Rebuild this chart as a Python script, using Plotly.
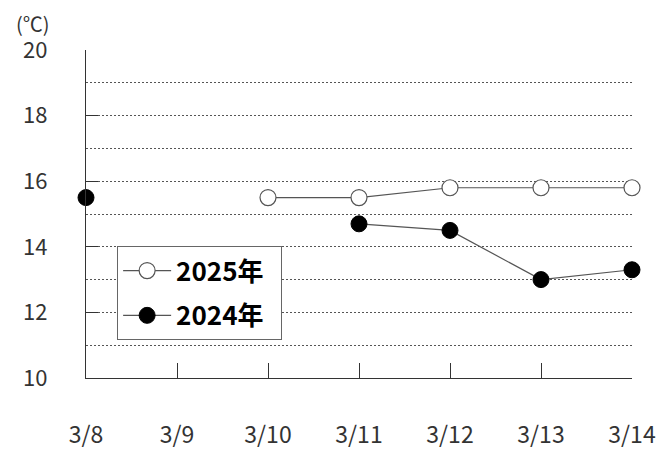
import plotly.graph_objects as go

dates = ["3/8", "3/9", "3/10", "3/11", "3/12", "3/13", "3/14"]
temp_2025 = [None, None, 15.5, 15.5, 15.8, 15.8, 15.8]
temp_2024 = [15.5, None, None, 14.7, 14.5, 13.0, 13.3]
y_ticks = [10, 12, 14, 16, 18, 20]

xs = list(range(len(dates)))
pad = "\u00a0\u00a0"

fig = go.Figure()
fig.add_trace(go.Scatter(
    x=xs, y=temp_2025, name="2025年" + pad, mode="lines+markers", legendgroup="a",
    line=dict(color="#555555", width=1.2),
    marker=dict(size=16, color="white", line=dict(color="#555555", width=1.2)),
    cliponaxis=False, connectgaps=False,
))
fig.add_trace(go.Scatter(
    x=xs, y=temp_2024, name="2024年" + pad, mode="lines+markers", legendgroup="b",
    line=dict(color="#555555", width=1.2),
    marker=dict(size=16, color="black", line=dict(color="black", width=1)),
    cliponaxis=False, connectgaps=False,
))

fig.update_layout(
    width=661, height=443,
    margin=dict(l=78, r=37, t=42, b=73, autoexpand=False),
    paper_bgcolor="white", plot_bgcolor="white",
    font=dict(family="Noto Sans CJK JP, Noto Sans, sans-serif", color="#333333"),
    showlegend=True,
    legend=dict(
        x=0.057, y=0.402, xanchor="left", yanchor="top",
        bgcolor="white", bordercolor="#666666", borderwidth=1,
        font=dict(size=26, color="black", family="Noto Sans CJK JP, sans-serif", weight="bold"),
        tracegroupgap=8, itemwidth=48,
    ),
    xaxis=dict(
        range=[0, 6], tickmode="array", tickvals=xs, ticktext=dates,
        showline=True, linecolor="#333333", linewidth=1.2,
        ticks="inside", ticklen=15, tickcolor="#333333",
        showgrid=False, zeroline=False, automargin=False,
        tickfont=dict(size=23, color="#333333"),
        ticklabelstandoff=36,
    ),
    yaxis=dict(
        range=[10, 20], tickmode="array", tickvals=y_ticks,
        showline=True, linecolor="#333333", linewidth=1.2,
        ticks="inside", ticklen=12, tickcolor="#333333",
        showgrid=True, gridcolor="#555555", griddash="2px,2px", gridwidth=1,
        zeroline=False, automargin=False,
        tickfont=dict(size=22, color="#333333"),
        ticklabelstandoff=33,
        minor=dict(dtick=1, tick0=10, showgrid=True, gridcolor="#555555",
                   griddash="2px,2px", gridwidth=1, ticks=""),
    ),
    annotations=[dict(
        text="(℃)", x=-0.13, y=1.082, xref="paper", yref="paper", showarrow=False,
        xanchor="left", yanchor="middle", borderpad=0,
        font=dict(size=20, color="#333333"),
    )],
)

fig.write_html("out.html", config={"displayModeBar": False})
